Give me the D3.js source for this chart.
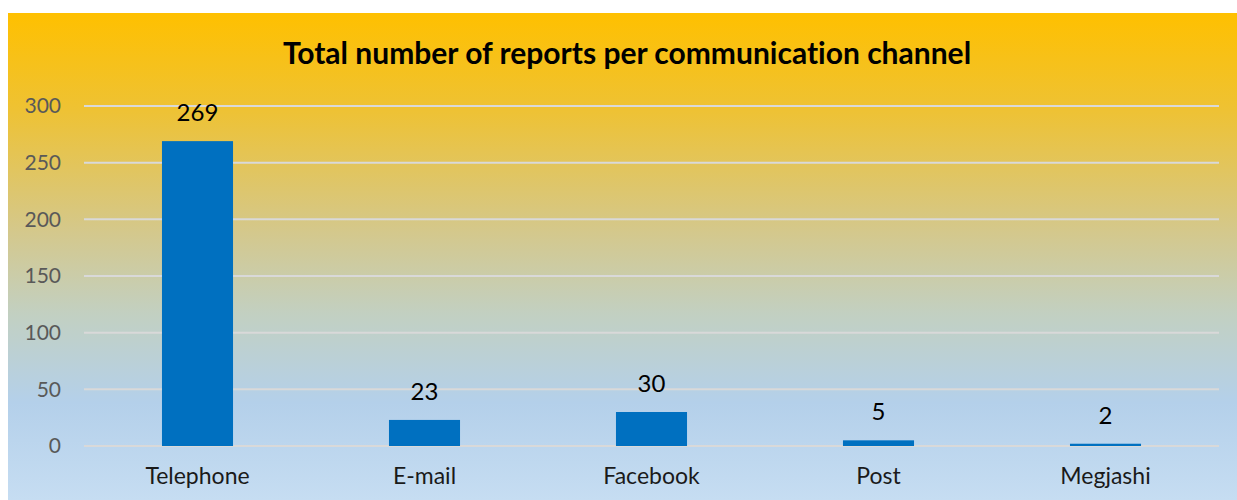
<!DOCTYPE html>
<html>
<head>
<meta charset="utf-8">
<script src="https://cdn.jsdelivr.net/npm/d3@7"></script>
<style>
  html, body { margin: 0; padding: 0; background: #ffffff; }
  svg { display: block; }
  text { font-variant-ligatures: none; font-feature-settings: "liga" 0; }
</style>
</head>
<body>
<svg id="chart" width="1237" height="500"></svg>
<script>
const titleText = "Total number of reports per communication channel";
const categories = ["Telephone", "E-mail", "Facebook", "Post", "Megjashi"];
const reports = [269, 23, 30, 5, 2];
const yTicks = [0, 50, 100, 150, 200, 250, 300];

const W = 1237, H = 500;
const svg = d3.select("#chart");
const font = "Lato, 'Open Sans', sans-serif";

const defs = svg.append("defs");
const grad = defs.append("linearGradient").attr("id", "bg").attr("x1", 0).attr("y1", 0).attr("x2", 0).attr("y2", 1);
[[0, "#FFC000"], [0.2, "#EEC234"], [0.45, "#D4C88C"], [0.62, "#C2D0C2"], [0.8, "#B4D0EA"], [1, "#C6DDF2"]]
  .forEach(([o, c]) => grad.append("stop").attr("offset", o).attr("stop-color", c));

svg.append("rect").attr("x", 8).attr("y", 13).attr("width", W - 8).attr("height", H - 13).attr("fill", "url(#bg)");

const margin = { left: 84, right: 18, top: 106, bottom: 54 };
const x = d3.scaleBand().domain(categories).range([margin.left, W - margin.right]).padding(0);
const y = d3.scaleLinear().domain([0, 300]).range([H - margin.bottom, margin.top]);
const barW = x.bandwidth() * 0.313;

// gridlines
svg.append("g").selectAll("line").data(yTicks).join("line")
  .attr("x1", margin.left).attr("x2", W - margin.right)
  .attr("y1", d => y(d)).attr("y2", d => y(d))
  .attr("stroke", "#D9D9D9").attr("stroke-width", 2);

// y axis labels
const yAxis = d3.axisLeft(y).tickValues(yTicks).tickSize(0).tickPadding(0);
const yg = svg.append("g").attr("transform", `translate(61,0)`).call(yAxis);
yg.select(".domain").remove();
yg.selectAll("text").attr("font-family", font).attr("font-size", 21).attr("fill", "#595959");

// x axis labels
const xAxis = d3.axisBottom(x).tickSize(0).tickPadding(0);
const xg = svg.append("g").attr("transform", `translate(0,${y(0) + 22})`).call(xAxis);
xg.select(".domain").remove();
xg.selectAll("text").attr("font-family", font).attr("font-size", 23).attr("fill", "#1a1a1a");

// bars
svg.append("g").selectAll("rect").data(reports).join("rect")
  .attr("x", (d, i) => x(categories[i]) + (x.bandwidth() - barW) / 2)
  .attr("width", barW)
  .attr("y", d => y(d))
  .attr("height", d => y(0) - y(d))
  .attr("fill", "#0070C0");

// value labels
svg.append("g").selectAll("text").data(reports).join("text")
  .attr("x", (d, i) => x(categories[i]) + x.bandwidth() / 2)
  .attr("y", d => y(d) - 20)
  .attr("text-anchor", "middle")
  .attr("font-family", font).attr("font-size", 24).attr("fill", "#000")
  .text(d => d);

// title
svg.append("text").attr("x", 627).attr("y", 64)
  .attr("text-anchor", "middle")
  .attr("font-family", font).attr("font-weight", "bold").attr("font-size", 30).attr("fill", "#000")
  .text(titleText);
</script>
</body>
</html>
